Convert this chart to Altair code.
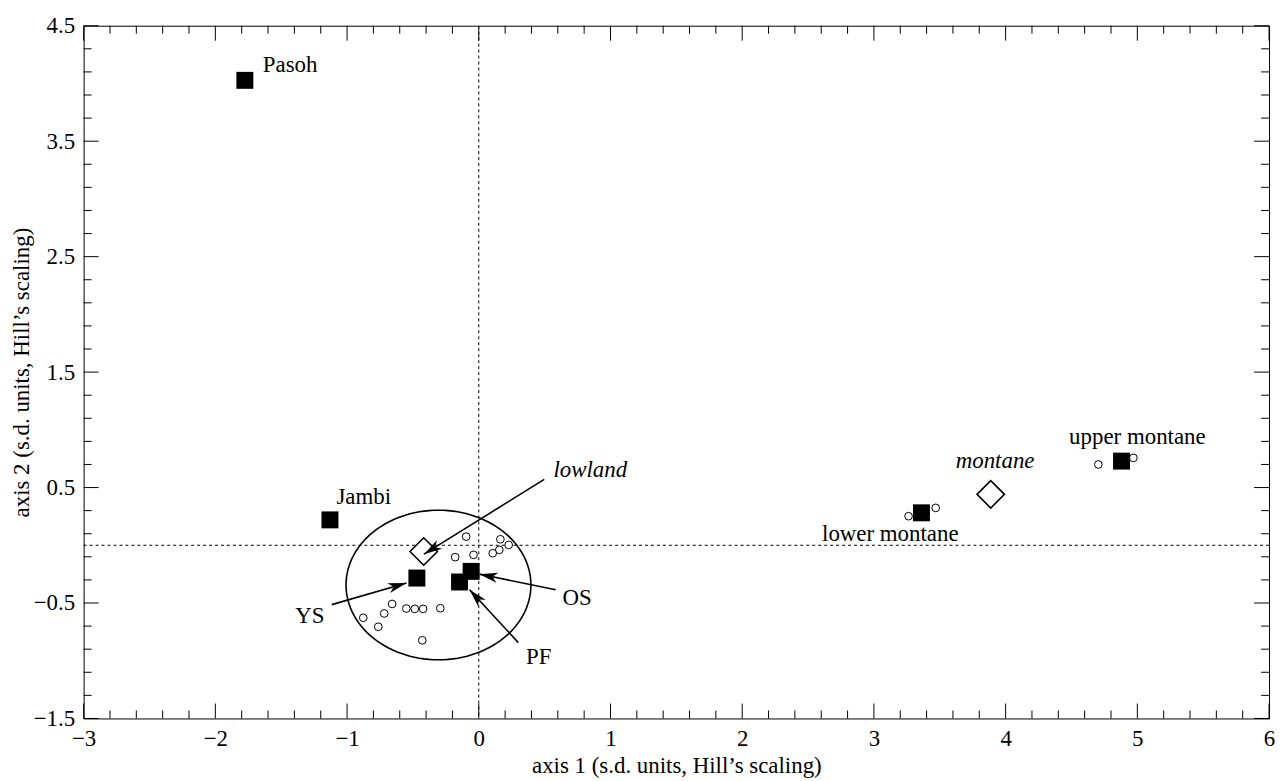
import math
import altair as alt
import pandas as pd

# ---------------- data ----------------
site_names = ["Pasoh", "Jambi", "YS", "OS", "PF", "lower montane", "upper montane"]
site_x = [-1.776, -1.13, -0.47, -0.058, -0.146, 3.361, 4.88]
site_y = [4.027, 0.22, -0.284, -0.226, -0.318, 0.281, 0.729]

plot_x = [-0.096, 0.164, 0.227, 0.156, 0.106, -0.04, -0.179, -0.658, -0.55, -0.486,
          -0.423, -0.292, -0.718, -0.877, -0.763, -0.429, 3.263, 3.469, 4.704, 4.97]
plot_y = [0.075, 0.052, 0.003, -0.04, -0.069, -0.083, -0.103, -0.508, -0.548, -0.551,
          -0.551, -0.545, -0.591, -0.628, -0.706, -0.823, 0.252, 0.324, 0.70, 0.757]

centroid_names = ["lowland", "montane"]
centroid_x = [-0.418, 3.887]
centroid_y = [-0.054, 0.441]

label_text = ["Pasoh", "Jambi", "YS", "OS", "PF", "upper montane"]
label_x = [-1.640, -1.081, -1.393, 0.635, 0.358, 4.482]
label_y = [4.099, 0.361, -0.671, -0.514, -1.030, 0.878]

rlabel_text = ["lower montane"]
rlabel_x = [3.643]
rlabel_y = [0.034]

ilabel_text = ["lowland", "montane"]
ilabel_x = [0.567, 3.621]
ilabel_y = [0.591, 0.671]

arrow_names = ["lowland", "YS", "OS", "PF"]
arrow_x0 = [0.497, -1.116, 0.584, 0.300]
arrow_y0 = [0.571, -0.514, -0.385, -0.843]
arrow_x1 = [-0.416, -0.549, 0.005, -0.070]
arrow_y1 = [-0.077, -0.327, -0.250, -0.385]

ellipse_center = (-0.306, -0.344)
ellipse_radii = (0.702, 0.648)

x_major = [-3, -2, -1, 0, 1, 2, 3, 4, 5, 6]
y_major = [-1.5, -0.5, 0.5, 1.5, 2.5, 3.5, 4.5]
x_minor = [round(-3 + 0.2 * i, 1) for i in range(46) if i % 5]
y_minor = [round(-1.5 + 0.2 * i, 1) for i in range(31) if i % 5]

# ---------------- layout ----------------
W, H = 1191, 696
XD, YD = [-3, 6], [-1.5, 4.5]
FONT = "Liberation Serif"
FS = 23
MAJ, MIN = 15, 8

xs = alt.Scale(domain=XD, nice=False, zero=False)
ys = alt.Scale(domain=YD, nice=False, zero=False)

common = dict(domain=False, grid=False, ticks=False, tickSize=0,
              labelFont=FONT, labelFontSize=FS, labelColor="black",
              labelFlush=False, labelOverlap=False,
              titleFont=FONT, titleFontSize=FS, titleFontWeight="normal",
              titleColor="black")

ax_x = alt.Axis(orient="bottom", values=x_major, labelPadding=9, format="d",
                title="axis 1 (s.d. units, Hill\u2019s scaling)",
                titleBaseline="alphabetic", titleAlign="center",
                titleX=W / 2, titleY=54, **common)
ax_y = alt.Axis(orient="left", values=y_major, labelPadding=9, format=".1f",
                title="axis 2 (s.d. units, Hill\u2019s scaling)",
                titleAngle=270, titleBaseline="alphabetic", titleAlign="center",
                titleX=-55, titleY=H / 2, **common)

# ---------------- tables ----------------
sites = pd.DataFrame({"name": site_names, "x": site_x, "y": site_y})
plots = pd.DataFrame({"x": plot_x, "y": plot_y})
cents = pd.DataFrame({"name": centroid_names, "x": centroid_x, "y": centroid_y})
labs = pd.DataFrame({"t": label_text, "x": label_x, "y": label_y})
rlabs = pd.DataFrame({"t": rlabel_text, "x": rlabel_x, "y": rlabel_y})
ilabs = pd.DataFrame({"t": ilabel_text, "x": ilabel_x, "y": ilabel_y})
xmaj = pd.DataFrame({"x": x_major})
xmin = pd.DataFrame({"x": x_minor})
ymaj = pd.DataFrame({"y": y_major})
ymin = pd.DataFrame({"y": y_minor})

px, py = W / (XD[1] - XD[0]), H / (YD[1] - YD[0])
angles = [(math.degrees(math.atan2((x1 - x0) * px, (y1 - y0) * py)) + 360) % 360
          for x0, y0, x1, y1 in zip(arrow_x0, arrow_y0, arrow_x1, arrow_y1)]
arrows = pd.DataFrame({"name": arrow_names, "x": arrow_x0, "y": arrow_y0,
                       "x2": arrow_x1, "y2": arrow_y1, "angle": angles})

n = 120
cx, cy = ellipse_center
rx, ry = ellipse_radii
ell = pd.DataFrame({
    "i": list(range(n + 1)),
    "x": [cx + rx * math.cos(2 * math.pi * k / n) for k in range(n + 1)],
    "y": [cy + ry * math.sin(2 * math.pi * k / n) for k in range(n + 1)],
})

zx = pd.DataFrame({"x": [0]})
zy = pd.DataFrame({"y": [0]})


def X(ax=None, f="x"):
    return alt.X(f"{f}:Q", scale=xs, axis=ax)


def Y(ax=None, f="y"):
    return alt.Y(f"{f}:Q", scale=ys, axis=ax)


def tick(df, channel, length, side):
    base = alt.Chart(df).mark_rule(color="black", strokeWidth=1)
    if channel == "x":
        y0 = H if side == "bottom" else 0
        y1 = H - length if side == "bottom" else length
        return base.encode(x=X(), y=alt.value(y0), y2=alt.value(y1))
    x0 = 0 if side == "left" else W
    x1 = length if side == "left" else W - length
    return base.encode(y=Y(), x=alt.value(x0), x2=alt.value(x1))


ticks = [
    tick(xmaj, "x", MAJ, "bottom"), tick(xmin, "x", MIN, "bottom"),
    tick(xmaj, "x", MAJ, "top"), tick(xmin, "x", MIN, "top"),
    tick(ymaj, "y", MAJ, "left"), tick(ymin, "y", MIN, "left"),
    tick(ymaj, "y", MAJ, "right"), tick(ymin, "y", MIN, "right"),
]

vline = alt.Chart(zx).mark_rule(color="black", strokeWidth=1, strokeDash=[3, 3]).encode(x=X())
hline = alt.Chart(zy).mark_rule(color="black", strokeWidth=1, strokeDash=[3, 3]).encode(y=Y())

ellipse = alt.Chart(ell).mark_line(color="black", strokeWidth=1.6).encode(
    x=X(), y=Y(), order="i:Q")

squares = alt.Chart(sites).mark_point(shape="square", filled=True, color="black",
                                      size=290, opacity=1).encode(
    x=X(ax_x), y=Y(ax_y))

circles = alt.Chart(plots).mark_point(shape="circle", filled=True, fill="white",
                                      stroke="black", strokeWidth=1, size=60,
                                      opacity=1).encode(x=X(), y=Y())

diamonds = alt.Chart(cents).mark_point(shape="diamond", filled=True, fill="white",
                                       stroke="black", strokeWidth=1.6, size=760,
                                       opacity=1).encode(x=X(), y=Y())

shafts = alt.Chart(arrows).mark_rule(color="black", strokeWidth=1.6).encode(
    x=X(), y=Y(), x2="x2:Q", y2="y2:Q")

heads = alt.Chart(arrows).mark_point(
    shape="M0,0 L-0.55,2 L0,1.45 L0.55,2 Z", filled=True, fill="black",
    strokeWidth=0, size=340, opacity=1).encode(
    x=X(f="x2"), y=Y(f="y2"), angle=alt.Angle("angle:Q", scale=None))

text_left = alt.Chart(labs).mark_text(font=FONT, fontSize=FS, align="left",
                                      baseline="alphabetic", color="black").encode(
    x=X(), y=Y(), text="t:N")

text_right = alt.Chart(rlabs).mark_text(font=FONT, fontSize=FS, align="right",
                                        baseline="alphabetic", color="black").encode(
    x=X(), y=Y(), text="t:N")

text_ital = alt.Chart(ilabs).mark_text(font=FONT, fontSize=FS, fontStyle="italic",
                                       align="left", baseline="alphabetic",
                                       color="black").encode(
    x=X(), y=Y(), text="t:N")

chart = alt.layer(
    squares, *ticks, vline, hline, ellipse, circles, diamonds, shafts, heads,
    text_left, text_right, text_ital,
).resolve_axis(x="independent", y="independent").properties(
    width=W, height=H,
    autosize=alt.AutoSizeParams(type="none"),
    padding={"left": 76, "top": 16, "right": 9, "bottom": 58},
    background="white",
).configure_view(stroke="black", strokeWidth=1)

chart.save("out.html", embed_options={"renderer": "svg", "actions": False})
